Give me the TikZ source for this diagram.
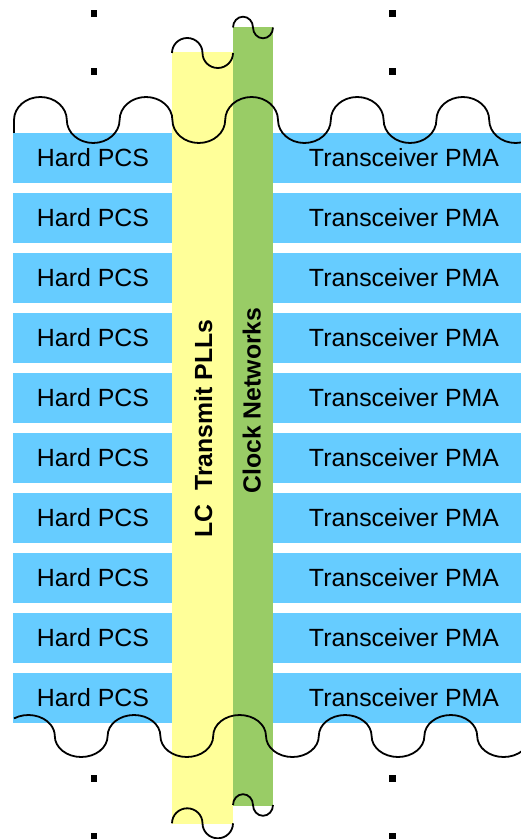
\documentclass[tikz,border=0pt]{standalone}
\usepackage{fontspec}
\setmainfont{Liberation Sans}
\definecolor{pmablue}{RGB}{102,204,255}
\definecolor{pllyellow}{RGB}{255,255,153}
\definecolor{clkgreen}{RGB}{153,204,102}
\begin{document}
\begin{tikzpicture}[x=1pt,y=1pt,
  bar/.style={fill=pmablue,draw=none},
  lbl/.style={font=\fontsize{24.9}{28}\selectfont,inner sep=0pt,anchor=base},
  vlbl/.style={font=\fontsize{24.8}{28}\selectfont\bfseries,inner sep=0pt,anchor=base,rotate=90},
  wave/.style={draw=black,line width=1.8pt},
  dot/.style={rectangle,fill=black,draw=none,minimum size=6.5pt,inner sep=0pt}]
\useasboundingbox (0,0) rectangle (521,839);
\clip (0,0) rectangle (521,839);

% transceiver channel rows
\foreach \i in {0,...,9} {
  \path[bar] (13,706-60*\i) rectangle (172,656-60*\i);
  \path[bar] (273,706-60*\i) rectangle (521,656-60*\i);
  \node[lbl] (pcs\i) at (93,672.3-60*\i) {Hard PCS};
  \node[lbl] (pma\i) at (404,672.3-60*\i) {Transceiver PMA};
}

% vertical PLL and clock columns
\fill[pllyellow] (172,15) rectangle (233,787);
\fill[clkgreen] (233,33) rectangle (273,812);
\node[vlbl] (pll) at (212,410.5) {LC\hspace{0.556em}Transmit PLLs};
\node[vlbl] (clk) at (260.5,438.5) {Clock Networks};

% break marks across the rows (top)
\draw[wave] (14,706) -- (14,719)
  arc[start angle=180,end angle=0,x radius=26.4,y radius=23]
  arc[start angle=180,end angle=360,x radius=26.4,y radius=23]
  arc[start angle=180,end angle=0,x radius=26.4,y radius=23]
  arc[start angle=180,end angle=360,x radius=26.4,y radius=23]
  arc[start angle=180,end angle=0,x radius=26.4,y radius=23]
  arc[start angle=180,end angle=360,x radius=26.4,y radius=23]
  arc[start angle=180,end angle=0,x radius=26.4,y radius=23]
  arc[start angle=180,end angle=360,x radius=26.4,y radius=23]
  arc[start angle=180,end angle=0,x radius=26.4,y radius=23]
  arc[start angle=180,end angle=360,x radius=26.4,y radius=23];

% break marks across the rows (bottom)
\draw[wave] (14.02,120.6)
  arc[start angle=123,end angle=0,x radius=26.4,y radius=21]
  arc[start angle=180,end angle=360,x radius=26.4,y radius=21]
  arc[start angle=180,end angle=0,x radius=26.4,y radius=21]
  arc[start angle=180,end angle=360,x radius=26.4,y radius=21]
  arc[start angle=180,end angle=0,x radius=26.4,y radius=21]
  arc[start angle=180,end angle=360,x radius=26.4,y radius=21]
  arc[start angle=180,end angle=0,x radius=26.4,y radius=21]
  arc[start angle=180,end angle=360,x radius=26.4,y radius=21]
  arc[start angle=180,end angle=0,x radius=26.4,y radius=21]
  arc[start angle=180,end angle=360,x radius=26.4,y radius=21];

% break marks on the column ends
\draw[wave] (172,786)
  arc[start angle=180,end angle=0,x radius=15.25,y radius=15]
  arc[start angle=180,end angle=360,x radius=15.25,y radius=15];
\draw[wave] (233,811.5)
  arc[start angle=180,end angle=0,x radius=10,y radius=10.8]
  arc[start angle=180,end angle=360,x radius=10,y radius=10.8];
\draw[wave] (172,15.7)
  arc[start angle=180,end angle=0,x radius=15.25,y radius=15]
  arc[start angle=180,end angle=360,x radius=15.25,y radius=15];
\draw[wave] (233,34)
  arc[start angle=180,end angle=0,x radius=10,y radius=10.8]
  arc[start angle=180,end angle=360,x radius=10,y radius=10.8];

% continuation dots
\node[dot] (dtl1) at (94,825.5) {};
\node[dot] (dtl2) at (94,767.7) {};
\node[dot] (dtr1) at (392.5,825.5) {};
\node[dot] (dtr2) at (392.5,767.7) {};
\node[dot] (dbl1) at (94,60.7) {};
\node[dot] (dbl2) at (94,3) {};
\node[dot] (dbr1) at (392.5,60.7) {};
\node[dot] (dbr2) at (392.5,3) {};
\end{tikzpicture}
\end{document}
